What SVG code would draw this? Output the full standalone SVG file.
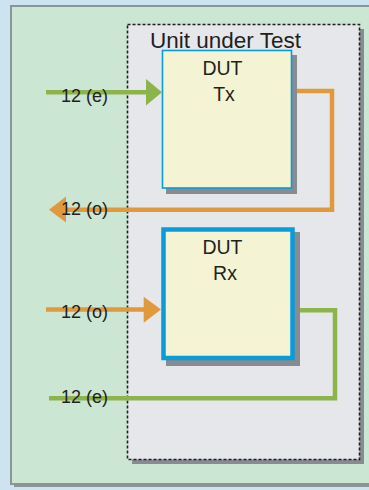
<svg xmlns="http://www.w3.org/2000/svg" width="369" height="490" viewBox="0 0 369 490">
<style>
.lbl{font-family:"Liberation Sans",Arial,sans-serif;fill:#231f20}
.shadow{fill:#868c91}
.box{fill:#f4f4d4;stroke:#0a9bd8}
.g{fill:none;stroke:#8cb44a;stroke-width:4.5}
.o{fill:none;stroke:#e0993c;stroke-width:4.5}
</style>
<rect x="0" y="0" width="369" height="490" fill="#cde3f0"/>
<g id="panel">
<rect x="14" y="9" width="370" height="478" fill="#8a9499"/>
<rect x="11" y="6" width="370" height="478" fill="#cce6d4" stroke="#8a9499" stroke-width="2"/>
</g>
<g id="uut">
<rect x="132" y="29" width="232" height="435" class="shadow"/>
<rect x="127.5" y="24.5" width="232" height="435" fill="#e6e7eb" stroke="#231f20" stroke-width="1.6" stroke-dasharray="3 2"/>
<text x="225.5" y="47.5" text-anchor="middle" class="lbl" font-size="22.5">Unit under Test</text>
</g>
<g id="dut-tx">
<rect x="166" y="55" width="131" height="139" class="shadow"/>
<rect x="162.5" y="50.5" width="129" height="137.5" class="box" stroke-width="1.6"/>
<text x="222.5" y="75" text-anchor="middle" class="lbl" font-size="19.5">DUT</text>
<text x="224" y="101" text-anchor="middle" class="lbl" font-size="19.5">Tx</text>
</g>
<g id="dut-rx">
<rect x="166" y="232" width="134" height="134" class="shadow"/>
<rect x="163.5" y="229.5" width="129" height="128.5" class="box" stroke-width="4.5"/>
<text x="222.5" y="254" text-anchor="middle" class="lbl" font-size="19.5">DUT</text>
<text x="225" y="280" text-anchor="middle" class="lbl" font-size="19.5">Rx</text>
</g>
<g id="connectors">
<line x1="46" y1="92.3" x2="148" y2="92.3" class="g"/>
<polygon points="146,79 162,92.3 146,105.5" fill="#8cb44a"/>
<polyline points="297,91 332,91 332,209.7 64,209.7" class="o"/>
<polygon points="66,196.5 49,209.7 66,222.5" fill="#e0993c"/>
<line x1="46" y1="309.5" x2="146" y2="309.5" class="o"/>
<polygon points="143.7,296.7 161,309.5 143.7,322.7" fill="#e0993c"/>
<polyline points="300,310.3 335,310.3 335,398.3 49,398.3" class="g"/>
<text x="61" y="102" class="lbl" font-size="18">12 (e)</text>
<text x="61" y="214.5" class="lbl" font-size="18">12 (o)</text>
<text x="61" y="317.5" class="lbl" font-size="18">12 (o)</text>
<text x="61" y="403" class="lbl" font-size="18">12 (e)</text>
</g>
</svg>
